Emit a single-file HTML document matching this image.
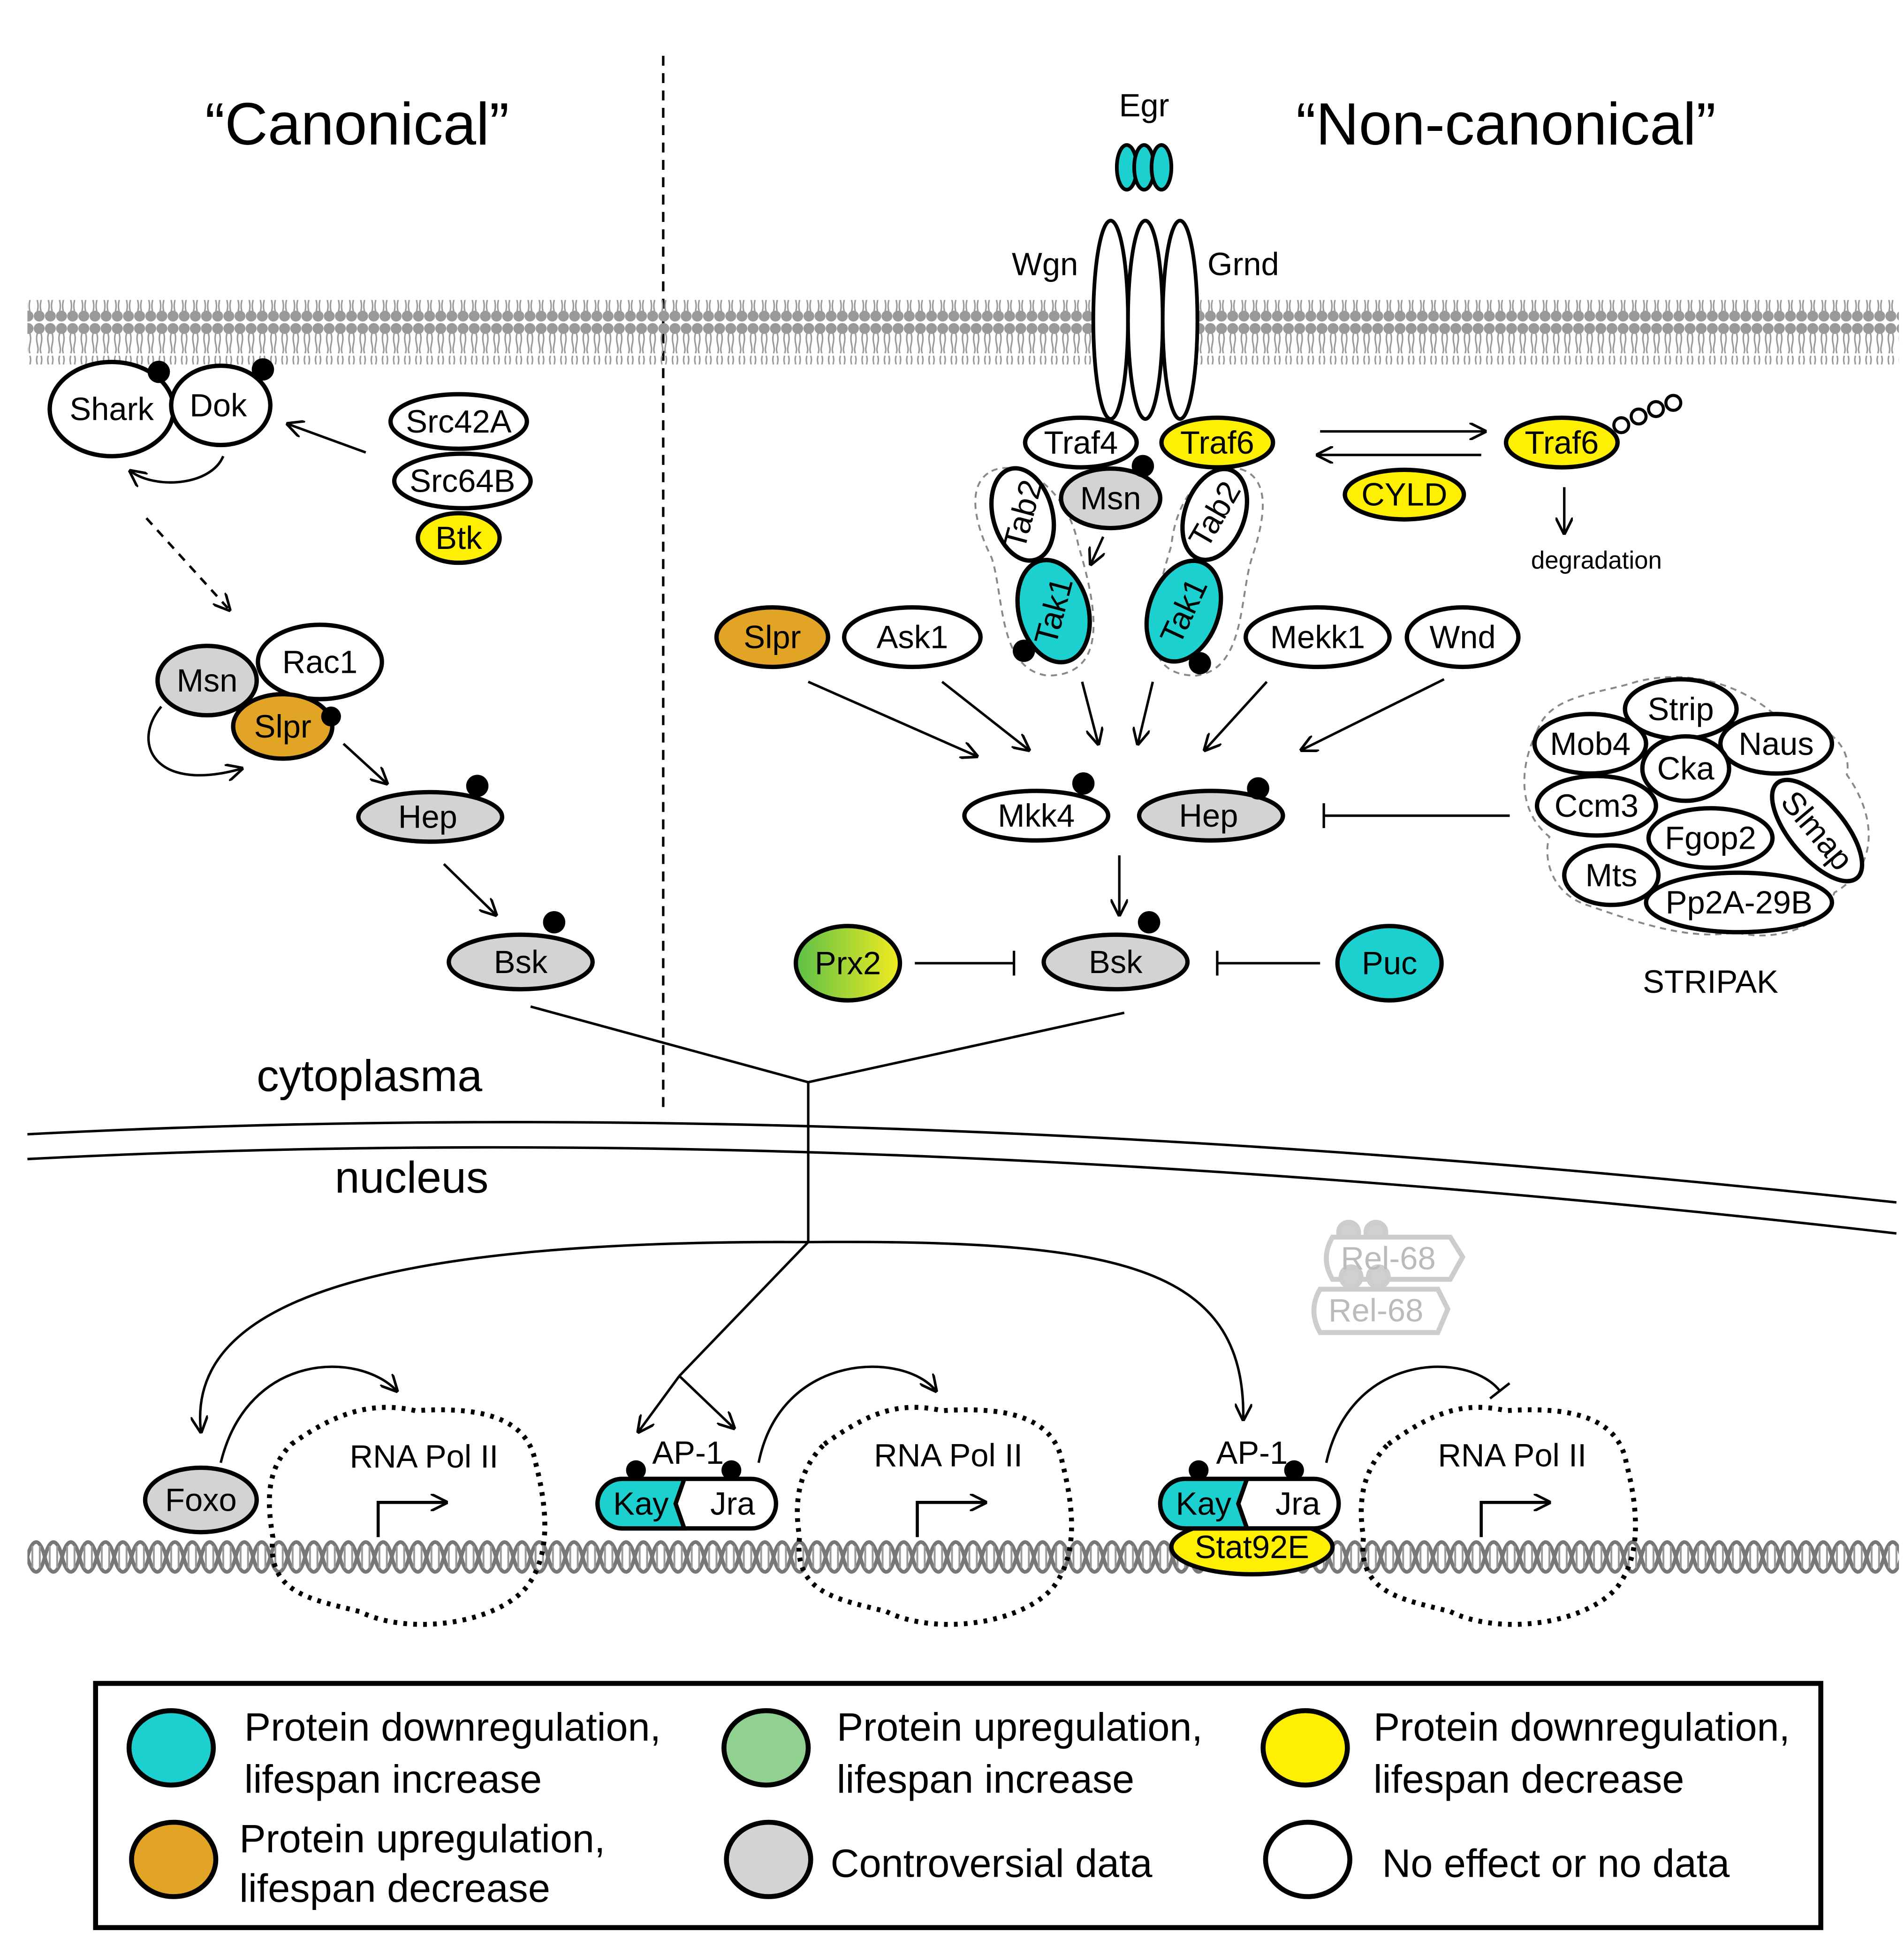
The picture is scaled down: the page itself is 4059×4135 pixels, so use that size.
<!DOCTYPE html>
<html><head><meta charset="utf-8"><style>html,body{margin:0;padding:0;background:#fff}svg{display:block}</style></head>
<body>
<svg xmlns="http://www.w3.org/2000/svg" width="4059" height="4135" viewBox="0 0 1536 1565" font-family="Liberation Sans, sans-serif">
<defs>
<marker id="a2" viewBox="0 0 10 10" refX="9" refY="5" markerWidth="14" markerHeight="14" orient="auto" markerUnits="userSpaceOnUse"><path d="M0,0 L10,5 L0,10" fill="none" stroke="#000" stroke-width="1.5"/></marker>
<marker id="t" viewBox="0 0 4 20" refX="2" refY="10" markerWidth="4" markerHeight="20" orient="auto" markerUnits="userSpaceOnUse"><line x1="2" y1="0" x2="2" y2="20" stroke="#000" stroke-width="2"/></marker>
<pattern id="lip" x="0" y="0" width="9" height="52" patternUnits="userSpaceOnUse">
<circle cx="4.5" cy="5" r="4.4" fill="#999"/><circle cx="4.5" cy="47" r="4.4" fill="#999"/>
<path d="M3,9 C1,16 5,20 3,25 M6,9 C8,16 4,20 6,25 M3,27 C1,32 5,36 3,43 M6,27 C8,32 4,36 6,43" stroke="#999" stroke-width="1.2" fill="none"/>
</pattern>
<pattern id="dna" x="22" y="1238" width="28" height="36" patternUnits="userSpaceOnUse">
<path d="M0,18 C4,2 10,2 14,18 C18,34 24,34 28,18" fill="none" stroke="#777" stroke-width="3"/>
<path d="M0,18 C4,34 10,34 14,18 C18,2 24,2 28,18" fill="none" stroke="#777" stroke-width="3"/>
<path d="M4,9 V27 M10,9 V27 M18,9 V27 M24,9 V27" stroke="#999" stroke-width="1.5"/>
</pattern>
<linearGradient id="g" x1="0" y1="0" x2="1" y2="0"><stop offset="0" stop-color="#5cc04a"/><stop offset="1" stop-color="#f4ec20"/></linearGradient>
</defs>
<g font-size="26" text-anchor="middle" dominant-baseline="central">
<text x="288" y="100" font-size="48">“Canonical”</text>
<text x="1215" y="100" font-size="48">“Non-canonical”</text>
<line x1="535" y1="45" x2="535" y2="895" stroke="#000" stroke-width="2" stroke-dasharray="8,6"/>
<rect x="22" y="242" width="1510" height="52" fill="url(#lip)"/>
<text x="923" y="85">Egr</text>
<g fill="#1cd0d0" stroke="#000" stroke-width="3"><ellipse cx="909" cy="135" rx="8" ry="18"/><ellipse cx="923" cy="135" rx="8" ry="18"/><ellipse cx="937" cy="135" rx="8" ry="18"/></g>
<g fill="#fff" stroke="#000" stroke-width="3"><ellipse cx="896" cy="258" rx="14" ry="80"/><ellipse cx="924" cy="258" rx="14" ry="80"/><ellipse cx="952" cy="258" rx="14" ry="80"/></g>
<text x="843" y="213">Wgn</text><text x="1003" y="213">Grnd</text>
<g stroke="#000" stroke-width="3.5">
<ellipse cx="90" cy="330" rx="50" ry="38" fill="#fff"/>
<ellipse cx="178" cy="327" rx="40" ry="32" fill="#fff"/>
<ellipse cx="370" cy="340" rx="55" ry="22" fill="#fff"/>
<ellipse cx="373" cy="388" rx="55" ry="22" fill="#fff"/>
<ellipse cx="370" cy="434" rx="33" ry="20" fill="#ffef00"/>
<ellipse cx="258" cy="534" rx="50" ry="30" fill="#fff"/>
<ellipse cx="167" cy="549" rx="40" ry="28" fill="#d3d3d3"/>
<ellipse cx="228" cy="586" rx="40" ry="26" fill="#e2a424"/>
<ellipse cx="347" cy="659" rx="58" ry="20" fill="#d3d3d3"/>
<ellipse cx="420" cy="776" rx="58" ry="22" fill="#d3d3d3"/>
</g>
<g fill="#000"><circle cx="128" cy="300" r="9"/><circle cx="212" cy="298" r="9"/><circle cx="267" cy="578" r="8"/><circle cx="385" cy="634" r="9"/><circle cx="447" cy="744" r="9"/></g>
<text x="90" y="330">Shark</text><text x="176" y="327">Dok</text><text x="370" y="340">Src42A</text><text x="373" y="388">Src64B</text><text x="370" y="434">Btk</text>
<text x="258" y="534">Rac1</text><text x="167" y="549">Msn</text><text x="228" y="586">Slpr</text><text x="345" y="659">Hep</text><text x="420" y="776">Bsk</text>
<g stroke="#000" stroke-width="2" fill="none" marker-end="url(#a2)">
<path d="M180,368 C170,392 125,395 105,380"/>
<line x1="295" y1="365" x2="232" y2="342"/>
<line x1="118" y1="418" x2="185" y2="492" stroke-dasharray="7,6"/>
<path d="M130,570 C105,600 125,640 195,620"/>
<line x1="277" y1="600" x2="312" y2="632"/>
<line x1="358" y1="697" x2="400" y2="738"/>
<line x1="1262" y1="393" x2="1262" y2="430"/>
<line x1="1065" y1="348" x2="1198" y2="348"/>
<line x1="1195" y1="367" x2="1063" y2="367"/>
<line x1="890" y1="433" x2="880" y2="455"/>
<line x1="652" y1="550" x2="788" y2="610"/>
<line x1="760" y1="550" x2="830" y2="605"/>
<line x1="873" y1="550" x2="886" y2="600"/>
<line x1="930" y1="550" x2="918" y2="600"/>
<line x1="1022" y1="550" x2="972" y2="605"/>
<line x1="1165" y1="548" x2="1050" y2="605"/>
<line x1="903" y1="690" x2="903" y2="738"/>
<path d="M652,1002 C300,1000 150,1050 162,1155"/>
<path d="M652,1002 C900,1000 1005,1020 1003,1145"/>
<line x1="548" y1="1110" x2="515" y2="1155"/>
<line x1="548" y1="1110" x2="592" y2="1152"/>
<path d="M178,1180 C200,1090 290,1090 320,1122"/>
<path d="M612,1180 C630,1090 730,1090 755,1122"/>
</g>
<g stroke="#000" stroke-width="2" fill="none" marker-end="url(#t)">
<line x1="1218" y1="658" x2="1068" y2="658"/>
<line x1="738" y1="777" x2="818" y2="777"/>
<line x1="1065" y1="777" x2="982" y2="777"/>
<path d="M1070,1180 C1090,1090 1185,1090 1210,1122"/>
</g>
<g stroke="#000" stroke-width="2" fill="none">
<polyline points="428,812 652,873 907,817"/>
<line x1="652" y1="873" x2="652" y2="1002"/>
<line x1="652" y1="1002" x2="548" y2="1110"/>
<path d="M22,915 Q700,880 1530,970"/>
<path d="M22,935 Q700,900 1530,995"/>
</g>
<text x="298" y="868" font-size="36">cytoplasma</text>
<text x="332" y="950" font-size="36">nucleus</text>
<g fill="none" stroke="#888" stroke-width="1.5" stroke-dasharray="5,4">
<path d="M800,380 C820,370 860,390 870,440 C885,490 895,545 845,545 C805,540 810,480 800,450 C785,420 780,390 800,380Z"/>
<path d="M1005,380 C985,370 950,390 945,440 C930,490 915,545 965,545 C1005,540 1000,480 1010,450 C1020,420 1025,390 1005,380Z"/>
<path d="M1240,590 C1250,560 1290,560 1320,550 C1360,540 1400,550 1430,575 C1470,580 1495,600 1490,625 C1515,660 1515,700 1480,720 C1470,750 1430,760 1400,752 C1360,760 1310,740 1280,730 C1250,720 1245,690 1250,675 C1225,655 1225,620 1240,590Z"/>
</g>
<g stroke="#000" stroke-width="3.5">
<ellipse cx="872" cy="357" rx="45" ry="20" fill="#fff"/>
<ellipse cx="982" cy="357" rx="45" ry="20" fill="#ffef00"/>
<ellipse cx="896" cy="402" rx="40" ry="24" fill="#d3d3d3"/>
<ellipse cx="825" cy="415" rx="24" ry="38" transform="rotate(-15 825 415)" fill="#fff"/>
<ellipse cx="980" cy="415" rx="24" ry="38" transform="rotate(20 980 415)" fill="#fff"/>
<ellipse cx="850" cy="493" rx="28" ry="42" transform="rotate(-15 850 493)" fill="#1cd0d0"/>
<ellipse cx="955" cy="493" rx="28" ry="42" transform="rotate(20 955 493)" fill="#1cd0d0"/>
<ellipse cx="1260" cy="357" rx="45" ry="20" fill="#ffef00"/>
<ellipse cx="1133" cy="399" rx="48" ry="20" fill="#ffef00"/>
<ellipse cx="623" cy="514" rx="45" ry="24" fill="#e2a424"/>
<ellipse cx="736" cy="514" rx="55" ry="24" fill="#fff"/>
<ellipse cx="1063" cy="514" rx="58" ry="24" fill="#fff"/>
<ellipse cx="1180" cy="514" rx="45" ry="24" fill="#fff"/>
<ellipse cx="836" cy="658" rx="58" ry="20" fill="#fff"/>
<ellipse cx="977" cy="658" rx="58" ry="20" fill="#d3d3d3"/>
<ellipse cx="900" cy="776" rx="58" ry="22" fill="#d3d3d3"/>
<ellipse cx="684" cy="777" rx="42" ry="30" fill="url(#g)"/>
<ellipse cx="1121" cy="777" rx="42" ry="30" fill="#1cd0d0"/>
<ellipse cx="1356" cy="572" rx="45" ry="24" fill="#fff"/>
<ellipse cx="1283" cy="600" rx="45" ry="24" fill="#fff"/>
<ellipse cx="1433" cy="600" rx="45" ry="24" fill="#fff"/>
<ellipse cx="1466" cy="670" rx="22" ry="50" transform="rotate(-40 1466 670)" fill="#fff"/>
<ellipse cx="1288" cy="650" rx="48" ry="24" fill="#fff"/>
<ellipse cx="1360" cy="620" rx="35" ry="26" fill="#fff"/>
<ellipse cx="1403" cy="728" rx="75" ry="24" fill="#fff"/>
<ellipse cx="1380" cy="676" rx="50" ry="24" fill="#fff"/>
<ellipse cx="1300" cy="706" rx="38" ry="24" fill="#fff"/>
</g>
<g fill="#fff" stroke="#000" stroke-width="2.5"><circle cx="1308" cy="343" r="6"/><circle cx="1322" cy="336" r="6"/><circle cx="1336" cy="330" r="6"/><circle cx="1350" cy="325" r="6"/></g>
<g fill="#000"><circle cx="922" cy="376" r="9"/><circle cx="826" cy="525" r="9"/><circle cx="968" cy="535" r="9"/><circle cx="874" cy="632" r="9"/><circle cx="1015" cy="636" r="9"/><circle cx="927" cy="744" r="9"/></g>
<text x="872" y="357">Traf4</text><text x="982" y="357">Traf6</text><text x="896" y="402">Msn</text>
<text x="825" y="415" transform="rotate(-75 825 415)">Tab2</text>
<text x="980" y="415" transform="rotate(-60 980 415)">Tab2</text>
<text x="850" y="493" transform="rotate(-75 850 493)">Tak1</text>
<text x="955" y="493" transform="rotate(-65 955 493)">Tak1</text>
<text x="1260" y="357">Traf6</text><text x="1133" y="399">CYLD</text>
<text x="1288" y="452" font-size="20">degradation</text>
<text x="623" y="514">Slpr</text><text x="736" y="514">Ask1</text><text x="1063" y="514">Mekk1</text><text x="1180" y="514">Wnd</text>
<text x="836" y="658">Mkk4</text><text x="975" y="658">Hep</text><text x="900" y="776">Bsk</text>
<text x="684" y="777">Prx2</text><text x="1121" y="777">Puc</text>
<text x="1356" y="572">Strip</text><text x="1283" y="600">Mob4</text><text x="1433" y="600">Naus</text><text x="1360" y="620">Cka</text>
<text x="1288" y="650">Ccm3</text><text x="1380" y="676">Fgop2</text><text x="1300" y="706">Mts</text><text x="1403" y="728">Pp2A-29B</text>
<text x="1466" y="670" transform="rotate(50 1466 670)">Slmap</text>
<text x="1380" y="792">STRIPAK</text>
<g fill="#fff" stroke="#c8c8c8" stroke-width="4" opacity="0.9">
<circle cx="1088" cy="994" r="8" fill="#ccc"/><circle cx="1110" cy="994" r="8" fill="#ccc"/>
<path d="M1075,998 L1170,998 L1180,1014 L1170,1032 L1075,1032 Q1065,1015 1075,998Z"/>
<circle cx="1090" cy="1030" r="8" fill="#ccc"/><circle cx="1112" cy="1030" r="8" fill="#ccc"/>
<path d="M1065,1040 L1160,1040 L1168,1056 L1160,1075 L1065,1075 Q1055,1057 1065,1040Z"/>
</g>
<text x="1120" y="1015" fill="#bbb">Rel-68</text><text x="1110" y="1057" fill="#bbb">Rel-68</text>
<rect x="22" y="1238" width="1510" height="36" fill="url(#dna)"/>
<g fill="none" stroke="#000" stroke-width="4" stroke-dasharray="3,5">
<path d="M235,1165 C270,1140 300,1130 335,1138 C380,1135 425,1140 432,1180 C445,1230 440,1260 425,1280 C400,1310 330,1320 290,1300 C250,1290 215,1285 220,1240 C215,1210 215,1185 235,1165Z"/>
<path d="M665,1165 C700,1140 725,1130 760,1138 C805,1135 850,1140 857,1180 C870,1230 865,1260 850,1280 C825,1310 755,1320 715,1300 C675,1290 640,1285 645,1240 C640,1210 645,1185 665,1165Z"/>
<path d="M1120,1165 C1155,1140 1180,1130 1215,1138 C1260,1135 1305,1140 1312,1180 C1325,1230 1320,1260 1305,1280 C1280,1310 1210,1320 1170,1300 C1130,1290 1095,1285 1100,1240 C1095,1210 1100,1185 1120,1165Z"/>
</g>
<text x="342" y="1175">RNA Pol II</text><text x="765" y="1174">RNA Pol II</text><text x="1220" y="1174">RNA Pol II</text>
<g stroke="#000" stroke-width="2.5" fill="none" marker-end="url(#a2)">
<polyline points="305,1240 305,1212 360,1212"/>
<polyline points="740,1240 740,1212 795,1212"/>
<polyline points="1195,1240 1195,1212 1250,1212"/>
</g>
<g stroke="#000" stroke-width="3.5">
<rect x="482" y="1193" width="144" height="40" rx="20" fill="#fff"/>
<path d="M502,1193 L552,1193 L545,1213 L552,1233 L502,1233 A20,20 0 0 1 502,1193Z" fill="#1cd0d0"/>
<ellipse cx="1010" cy="1248" rx="65" ry="22" fill="#ffef00"/>
<rect x="936" y="1193" width="144" height="40" rx="20" fill="#fff"/>
<path d="M956,1193 L1006,1193 L999,1213 L1006,1233 L956,1233 A20,20 0 0 1 956,1193Z" fill="#1cd0d0"/>
<ellipse cx="162" cy="1210" rx="45" ry="26" fill="#d3d3d3"/>
</g>
<g fill="#000"><circle cx="513" cy="1186" r="8"/><circle cx="590" cy="1186" r="8"/><circle cx="967" cy="1186" r="8"/><circle cx="1044" cy="1186" r="8"/></g>
<text x="555" y="1172">AP-1</text><text x="1010" y="1172">AP-1</text>
<text x="517" y="1213">Kay</text><text x="591" y="1213">Jra</text>
<text x="971" y="1213">Kay</text><text x="1047" y="1213">Jra</text>
<text x="1010" y="1248">Stat92E</text>
<text x="162" y="1210">Foxo</text>
<rect x="77" y="1358" width="1392" height="197" fill="none" stroke="#000" stroke-width="4"/>
<g stroke="#000" stroke-width="4">
<ellipse cx="138" cy="1410" rx="34" ry="30" fill="#1cd0d0"/>
<ellipse cx="618" cy="1410" rx="34" ry="30" fill="#90d090"/>
<ellipse cx="1053" cy="1410" rx="34" ry="30" fill="#ffef00"/>
<ellipse cx="140" cy="1500" rx="34" ry="30" fill="#e2a424"/>
<ellipse cx="620" cy="1500" rx="34" ry="30" fill="#d3d3d3"/>
<ellipse cx="1055" cy="1500" rx="34" ry="30" fill="#fff"/>
</g>
<g text-anchor="start" font-size="32">
<text x="197" y="1393">Protein downregulation,</text><text x="197" y="1435">lifespan increase</text>
<text x="675" y="1393">Protein upregulation,</text><text x="675" y="1435">lifespan increase</text>
<text x="1108" y="1393">Protein downregulation,</text><text x="1108" y="1435">lifespan decrease</text>
<text x="193" y="1483">Protein upregulation,</text><text x="193" y="1523">lifespan decrease</text>
<text x="670" y="1503">Controversial data</text>
<text x="1115" y="1503">No effect or no data</text>
</g>
</g>
</svg>
</body></html>
